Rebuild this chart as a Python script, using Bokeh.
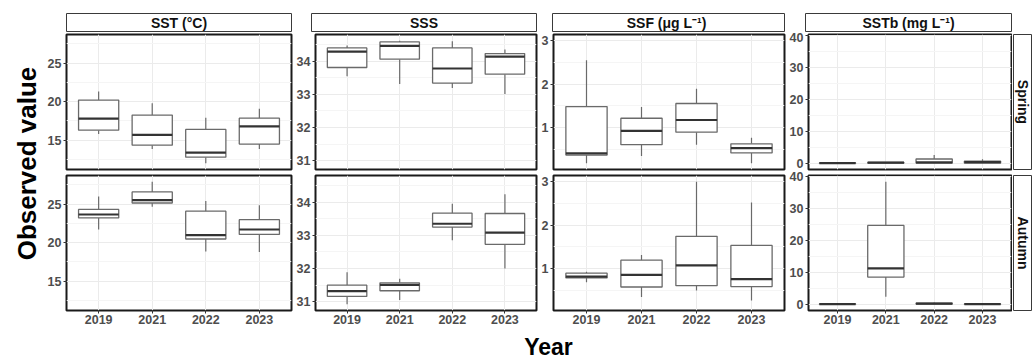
from math import pi

from bokeh.core.properties import value
from bokeh.embed import file_html
from bokeh.layouts import column, row
from bokeh.models import ColumnDataSource, FactorRange, FixedTicker, Range1d, Spacer
from bokeh.plotting import figure
from bokeh.resources import INLINE
from bokeh.transform import dodge

years = ["2019", "2021", "2022", "2023"]
variables = ["SST (°C)", "SSS", "SSF  (μg L⁻¹)", "SSTb (mg L⁻¹)"]
seasons = ["Spring", "Autumn"]

# Box-plot summaries for each year: (lower whisker, Q1, median, Q3, upper whisker)
sst_spring = [(15.8, 16.3, 17.8, 20.2, 21.3), (13.85, 14.35, 15.7, 18.25, 19.8),
              (12.0, 12.8, 13.4, 16.4, 17.9), (13.85, 14.5, 16.8, 17.86, 19.06)]
sst_autumn = [(21.7, 23.2, 23.64, 24.3, 25.97), (24.66, 25.13, 25.5, 26.57, 27.9),
              (18.86, 20.47, 20.97, 24.07, 25.4), (18.77, 21.06, 21.7, 22.97, 24.83)]

sss_spring = [(33.55, 33.81, 34.29, 34.4, 34.47), (33.31, 34.06, 34.46, 34.58, 34.62),
              (33.19, 33.34, 33.78, 34.4, 34.6), (33.01, 33.61, 34.14, 34.23, 34.35)]
sss_autumn = [(30.92, 31.16, 31.32, 31.5, 31.89), (31.05, 31.33, 31.51, 31.57, 31.69),
              (32.85, 33.25, 33.35, 33.67, 33.95), (32.0, 32.73, 33.08, 33.66, 34.24)]

ssf_spring = [(0.17, 0.36, 0.4, 1.48, 2.55), (0.34, 0.6, 0.92, 1.21, 1.47),
              (0.6, 0.89, 1.17, 1.55, 1.89), (0.17, 0.41, 0.52, 0.62, 0.76)]
ssf_autumn = [(0.68, 0.78, 0.81, 0.89, 0.92), (0.34, 0.57, 0.85, 1.19, 1.31),
              (0.49, 0.6, 1.07, 1.74, 3.0), (0.26, 0.58, 0.75, 1.53, 2.52)]

sstb_spring = [(0.0, 0.05, 0.1, 0.15, 0.2), (0.05, 0.1, 0.2, 0.3, 0.4),
               (0.0, 0.1, 0.3, 1.36, 2.6), (0.0, 0.1, 0.4, 0.73, 1.25)]
sstb_autumn = [(0.0, 0.05, 0.1, 0.15, 0.2), (2.4, 8.54, 11.25, 24.7, 38.4),
               (0.0, 0.1, 0.2, 0.4, 0.6), (0.0, 0.05, 0.1, 0.15, 0.2)]

sst_ticks = [15, 20, 25]
sss_ticks = [31, 32, 33, 34]
ssf_ticks = [1, 2, 3]
sstb_ticks = [0, 10, 20, 30, 40]

FONT = "Liberation Sans"
TICK_TEXT = "#4d4d4d"
BOX_LINE = "#6a6a6a"
MEDIAN_LINE = "#333333"
GRID_MAJOR = "#ebebeb"
GRID_MINOR = "#f5f5f5"

# Per facet column: left border, frame width, right border (pixels)
col_px = [(26, 225, 2), (18, 225, 2), (14, 232, 2), (19, 206, 1)]
LABEL_W = 40
STRIP_W = 21


def padded_range(*panels):
    lows = [b[0] for panel in panels for b in panel]
    highs = [b[4] for panel in panels for b in panel]
    lo, hi = min(lows), max(highs)
    pad = 0.05 * (hi - lo)
    return Range1d(lo - pad, hi + pad)


def minor_of(ticks):
    step = ticks[1] - ticks[0]
    return [t - step / 2 for t in ticks] + [ticks[-1] + step / 2]


def blank_fig(width, height, left=0, right=0, top=0, bottom=0, xr=(0, 1), yr=(0, 1),
              outline=None):
    p = figure(width=width, height=height, x_range=Range1d(*xr), y_range=Range1d(*yr),
               x_axis_location=None, y_axis_location=None,
               min_border_left=left, min_border_right=right,
               min_border_top=top, min_border_bottom=bottom,
               output_backend="svg", toolbar_location=None,
               background_fill_color="white", border_fill_color="white",
               outline_line_color=outline, outline_line_width=1)
    p.grid.visible = False
    return p


def strip_fig(width, height, left, right, top, bottom, label, angle=0.0):
    p = blank_fig(width, height, left, right, top, bottom, outline="#3a3a3a")
    p.text(x=[0.5], y=[0.5], text=[label], angle=angle,
           text_align="center", text_baseline="middle",
           text_font=value(FONT), text_font_style="bold",
           text_font_size="14px", text_color="#111111")
    return p


def panel_fig(stats, ticks, y_range, px, top, frame_h, bottom, show_x):
    left, frame_w, right = px
    p = figure(width=left + frame_w + right, height=top + frame_h + bottom,
               x_range=FactorRange(factors=years, range_padding=0.1,
                                   range_padding_units="absolute"),
               y_range=y_range,
               min_border_left=left, min_border_right=right,
               min_border_top=top, min_border_bottom=bottom,
               output_backend="svg", toolbar_location=None,
               background_fill_color="white", border_fill_color="white",
               outline_line_color="#1a1a1a", outline_line_width=2)

    src = ColumnDataSource(dict(
        year=years,
        lo=[s[0] for s in stats], q1=[s[1] for s in stats], med=[s[2] for s in stats],
        q3=[s[3] for s in stats], hi=[s[4] for s in stats],
    ))
    # whiskers
    p.segment(x0="year", y0="q3", x1="year", y1="hi", source=src,
              line_color=BOX_LINE, line_width=1.2)
    p.segment(x0="year", y0="lo", x1="year", y1="q1", source=src,
              line_color=BOX_LINE, line_width=1.2)
    # inter-quartile boxes
    p.vbar(x="year", width=0.75, bottom="q1", top="q3", source=src,
           fill_color="white", line_color=BOX_LINE, line_width=1.3)
    # medians
    p.segment(x0=dodge("year", -0.375, range=p.x_range), y0="med",
              x1=dodge("year", 0.375, range=p.x_range), y1="med", source=src,
              line_color=MEDIAN_LINE, line_width=2.2)

    p.yaxis.ticker = FixedTicker(ticks=ticks, minor_ticks=minor_of(ticks))
    for ax in (p.yaxis, p.xaxis):
        ax.axis_line_color = None
        ax.major_tick_out = 3
        ax.major_tick_in = 0
        ax.major_tick_line_color = "#333333"
        ax.minor_tick_line_color = None
        ax.major_label_standoff = 1
        ax.major_label_text_font = FONT
        ax.major_label_text_font_style = "bold"
        ax.major_label_text_font_size = "12.5px"
        ax.major_label_text_color = TICK_TEXT
    if not show_x:
        p.xaxis.visible = False

    p.xgrid.grid_line_color = GRID_MAJOR
    p.ygrid.grid_line_color = GRID_MAJOR
    p.ygrid.minor_grid_line_color = GRID_MINOR
    return p


spring = [sst_spring, sss_spring, ssf_spring, sstb_spring]
autumn = [sst_autumn, sss_autumn, ssf_autumn, sstb_autumn]
ticks_all = [sst_ticks, sss_ticks, ssf_ticks, sstb_ticks]

strips, tops, bottoms = [], [], []
for i in range(4):
    yr = padded_range(spring[i], autumn[i])
    left, frame_w, right = col_px[i]
    strips.append(strip_fig(left + frame_w + right, 32, left, right, 13, 0, variables[i]))
    tops.append(panel_fig(spring[i], ticks_all[i], yr, col_px[i], 1, 136, 2, False))
    bottoms.append(panel_fig(autumn[i], ticks_all[i], yr, col_px[i], 3, 136, 20, True))

strips.append(Spacer(width=STRIP_W, height=32))
tops.append(strip_fig(STRIP_W, 139, 1, 2, 2, 2, seasons[0], angle=-pi / 2))
bottoms.append(strip_fig(STRIP_W, 159, 1, 2, 4, 20, seasons[1], angle=-pi / 2))

grid_w = sum(sum(c) for c in col_px) + STRIP_W

# shared axis titles
ylab = blank_fig(LABEL_W, 360, xr=(0, LABEL_W), yr=(0, 360))
ylab.text(x=[26], y=[197], text=["Observed value"], angle=pi / 2,
          text_align="center", text_baseline="middle",
          text_font=value(FONT), text_font_style="bold",
          text_font_size="26px", text_color="black")

xlab = blank_fig(grid_w, 30, xr=(0, grid_w), yr=(0, 30))
xlab.text(x=[508], y=[13.5], text=["Year"],
          text_align="center", text_baseline="middle",
          text_font=value(FONT), text_font_style="bold",
          text_font_size="23px", text_color="black")

layout = row(ylab, column(row(*strips), row(*tops), row(*bottoms), xlab))

open("out.html", "w").write(file_html(layout, INLINE))
